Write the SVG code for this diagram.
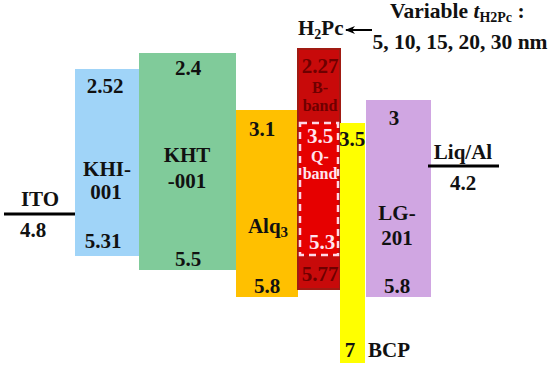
<svg xmlns="http://www.w3.org/2000/svg" width="550" height="367" viewBox="0 0 550 367">
<defs>
<marker id="ah" markerWidth="10" markerHeight="8" refX="9" refY="4" orient="auto" markerUnits="userSpaceOnUse">
<path d="M0,0 L10,4 L0,8 L3,4 Z" fill="#000"/>
</marker>
</defs>
<style>
text{font-family:"Liberation Serif","Times New Roman",serif;font-weight:bold;font-size:21px;fill:#111;text-anchor:middle}
.sm{font-size:16px}
.dk{fill:#6E0000}
.wt{fill:#FFE4EE}
.lvl{stroke:#000;stroke-width:3}
.st{text-anchor:start}
.top{font-size:21.5px}
</style>
<rect width="550" height="367" fill="#fff"/>
<g id="ITO">
<line class="lvl" x1="4" y1="214" x2="75" y2="214"/>
<text x="40" y="206">ITO</text>
<text x="33" y="237">4.8</text>
</g>
<g id="KHI-001">
<rect x="75" y="69" width="64" height="187" fill="#A0D4F8"/>
<text x="105" y="93">2.52</text>
<text x="107" y="176">KHI-</text>
<text x="106" y="199">001</text>
<text x="103" y="248">5.31</text>
</g>
<g id="KHT-001">
<rect x="139" y="53" width="97" height="217" fill="#80CB9A"/>
<text x="188" y="75">2.4</text>
<text x="187" y="162">KHT</text>
<text x="187" y="188">-001</text>
<text x="188" y="266">5.5</text>
</g>
<g id="Alq3">
<rect x="236" y="110" width="62" height="187" fill="#FFC000"/>
<text x="262" y="136">3.1</text>
<text x="268" y="233">Alq<tspan font-size="15" dy="4">3</tspan></text>
<text x="267" y="293">5.8</text>
</g>
<g id="H2Pc">
<rect x="298" y="49" width="42" height="240" fill="#C80A0A" stroke="#A01A12" stroke-width="2"/>
<rect x="300" y="123" width="38" height="132" fill="#E60000" stroke="#FFD8E6" stroke-width="2.5" stroke-dasharray="7,5"/>
<text class="dk" x="320" y="73">2.27</text>
<text class="dk sm" x="320" y="93">B-</text>
<text class="dk sm" x="320" y="111">band</text>
<text class="wt" x="320" y="143">3.5</text>
<text class="wt sm" x="320" y="162">Q-</text>
<text class="wt sm" x="320" y="179">band</text>
<text class="wt" x="322" y="249">5.3</text>
<text class="dk" x="320" y="281">5.77</text>
</g>
<g id="BCP">
<rect x="340" y="123" width="25" height="240" fill="#FFFF00"/>
<text x="352" y="146">3.5</text>
<text x="350" y="357">7</text>
<text class="st" x="368" y="357">BCP</text>
</g>
<g id="LG-201">
<rect x="366" y="100" width="65" height="197" fill="#D0A6E2"/>
<text x="394" y="125">3</text>
<text x="397" y="220">LG-</text>
<text x="397" y="245">201</text>
<text x="397" y="293">5.8</text>
</g>
<g id="LiqAl">
<line class="lvl" x1="428" y1="166" x2="499" y2="166"/>
<text x="463" y="159">Liq/Al</text>
<text x="463" y="190">4.2</text>
</g>
<g id="labels">
<text class="st" x="298" y="35">H<tspan font-size="14" dy="4">2</tspan><tspan dy="-4">Pc</tspan></text>
<text class="st top" x="390" y="18">Variable <tspan font-style="italic">t</tspan><tspan font-size="14" dy="4">H2Pc</tspan><tspan dy="-4"> :</tspan></text>
<text class="top" x="460" y="49">5, 10, 15, 20, 30 nm</text>
</g>
<g id="connectors">
<line x1="372" y1="30" x2="346" y2="30" stroke="#000" stroke-width="2" marker-end="url(#ah)"/>
</g>
</svg>
